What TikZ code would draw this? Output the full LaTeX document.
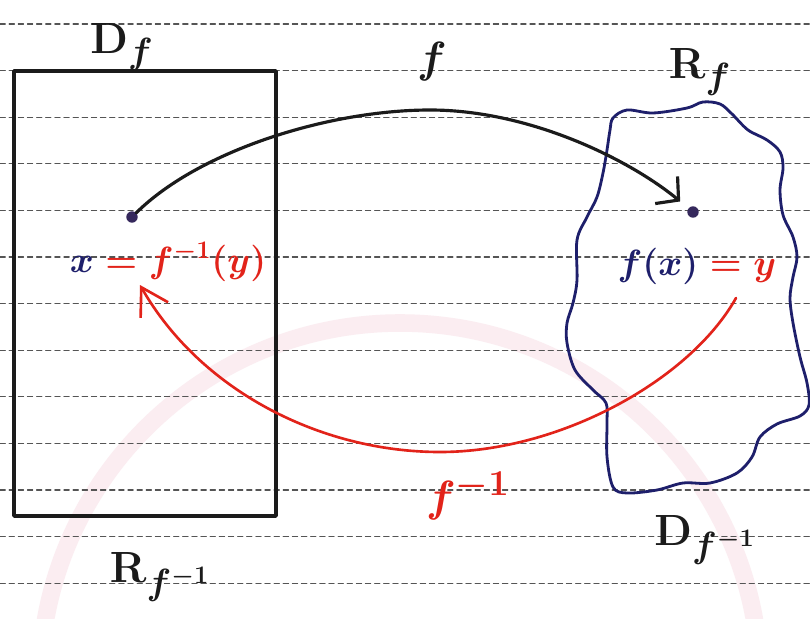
\documentclass[tikz,border=0pt]{standalone}
\usepackage{tikz}
\usetikzlibrary{arrows.meta}
\definecolor{ink}{HTML}{1B1B1B}
\definecolor{navy}{HTML}{1E1F6B}
\definecolor{mapred}{HTML}{E2231A}
\definecolor{dotc}{HTML}{35285C}
\definecolor{ruleln}{HTML}{555555}
\definecolor{stamp}{HTML}{FBEDF1}
\tikzset{
  lab/.style={text=ink,font=\fontsize{30}{32}\selectfont\boldmath,inner sep=0pt},
  eqn/.style={font=\fontsize{21}{24}\selectfont\boldmath,inner sep=0pt},
  ptdot/.style={circle,fill=dotc,inner sep=0pt,minimum size=6.5pt},
}

\begin{document}
\begin{tikzpicture}[x=0.02cm,y=-0.02cm,line cap=round,line join=round]
  \useasboundingbox (0,0) rectangle (810,618);
  \clip (0,0) rectangle (810,618);
  \fill[white] (0,0) rectangle (810,618);
  % faint stamp behind the page
  \draw[stamp,line width=10pt] (400,683) circle[radius=360];
  % ruled paper
  \foreach \k in {0,...,12}
    \draw[ruleln,line width=0.6pt,dash pattern=on 3pt off 2.2pt] (0,{24+46.6*\k}) -- (810,{24+46.6*\k});

  % domain box and range blob
  \draw[ink,line width=2pt] (14,71) rectangle (276,516);
  \draw[navy,line width=1.6pt] plot[smooth cycle,tension=0.55] coordinates {
    (613,118) (627,110) (653,113) (687,108) (703,102) (720,104) (732,114)
    (748,130) (767,140) (780,152) (783,168) (780,190) (783,215) (793,237)
    (797,257) (793,277) (790,298) (793,323) (800,357) (807,383) (809,405)
    (800,416) (777,424) (760,437) (752,457) (737,473) (710,483) (683,483)
    (657,490) (627,493) (613,487) (607,457) (607,423) (606,403) (593,390)
    (575,370) (567,343) (567,323) (573,303) (577,280) (577,240) (587,217)
    (597,197) (603,173) (607,150) (610,130)};

  % labels
  \node[lab] (Df) at (122,47) {$\mathrm{D}_f$};
  \node[lab,font=\fontsize{34}{36}\selectfont\boldmath] (fmap) at (432,62) {$f$};
  \node[lab] (Rf) at (700,72) {$\mathrm{R}_f$};
  \node[lab,text=mapred] (finv) at (468,496) {$f^{-1}$};
  \node[lab] (Dfinv) at (705,540) {$\mathrm{D}_{f^{-1}}$};
  \node[lab] (Rfinv) at (160,577) {$\mathrm{R}_{f^{-1}}$};

  % the two points
  \node[ptdot] (xdot) at (132,217) {};
  \node[ptdot] (fxdot) at (693,212) {};
  \node[eqn] (xeq) at (168,262) {${\color{navy}x}\mathrel{\color{mapred}=}{\color{mapred}f^{-1}(y)}$};
  \node[eqn] (fxeq) at (697,266) {${\color{navy}f(x)}\mathrel{\color{mapred}=}{\color{mapred}y}$};

  % f and its inverse
  \coordinate (ftop) at (430,110);
  \draw[ink,line width=1.8pt,-{Straight Barb[length=9pt,width=20pt]},shorten >=6pt]
    (xdot) .. controls (200,150) and (330,110) .. (ftop)
    .. controls (530,110) and (630,160) .. (fxdot);
  \coordinate (yfoot) at (736,298);
  \coordinate (gbot) at (440,452);
  \coordinate (xfoot) at (140,285);
  \draw[mapred,line width=1.5pt,-{Straight Barb[length=15pt,width=18pt]}]
    (yfoot) .. controls (690,380) and (560,452) .. (gbot)
    .. controls (320,452) and (200,390) .. (xfoot);
\end{tikzpicture}
\end{document}
